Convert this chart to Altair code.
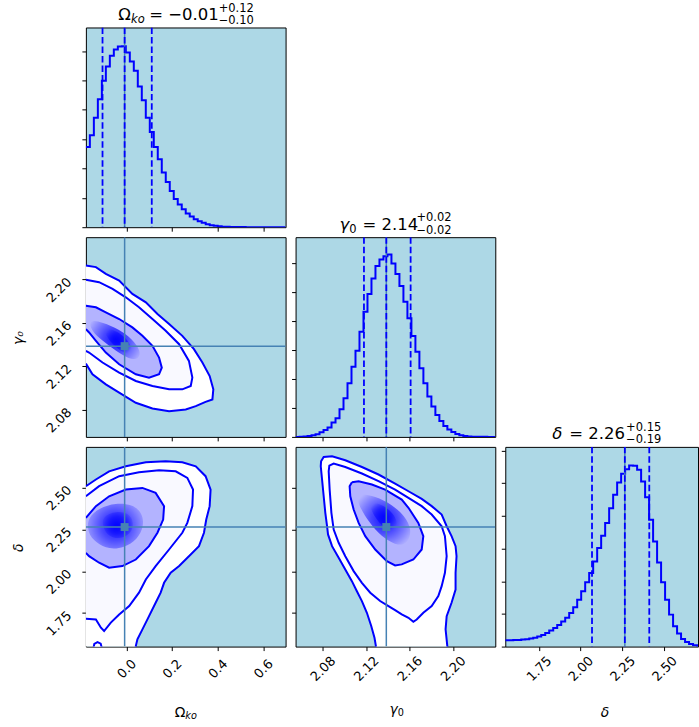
import altair as alt
import pandas as pd

FONT = "DejaVu Sans"
BG = "#add8e6"
BLUE = "#0000ff"
TRUTH_C = "#4682b4"

# ---------------- axis ranges / ticks ----------------
omega_range = [-0.178, 0.698]
gamma_range = [2.055, 2.239]
delta_range = [1.550, 2.743]
delta_shown_max = 2.701

omega_ticks = [0.0, 0.2, 0.4, 0.6]
gamma_ticks = [2.08, 2.12, 2.16, 2.20]
delta_ticks = [1.75, 2.00, 2.25, 2.50]
hist_ticks = [0, 1, 2, 3, 4, 5, 6]
hist_top = {"omega": 6.80, "gamma": 6.88, "delta": 6.11}

# ---------------- 1D histograms (50 bins over each range) ----------------
omega_hist = [2.73, 3.13, 3.73, 4.36, 4.99, 5.47, 5.84, 6.05, 6.15, 6.16,
              5.95, 5.64, 5.33, 4.79, 4.32, 3.73, 3.24, 2.73, 2.31, 1.86,
              1.54, 1.23, 0.96, 0.77, 0.61, 0.47, 0.36, 0.27, 0.20, 0.15,
              0.10, 0.07, 0.045, 0.03, 0.017, 0.012, 0.008, 0.006, 0.004, 0.003,
              0.002, 0.002, 0.001, 0.001, 0.0, 0.0, 0.0, 0.0, 0.0, 0.0]
gamma_hist = [0.0, 0.006, 0.017, 0.034, 0.057, 0.092, 0.161, 0.241, 0.321, 0.493,
              0.642, 0.952, 1.330, 1.847, 2.420, 2.970, 3.624, 4.312, 4.920, 5.459,
              5.883, 6.112, 6.227, 6.284, 5.975, 5.608, 5.195, 4.656, 4.083, 3.475,
              2.936, 2.362, 1.847, 1.388, 1.044, 0.757, 0.550, 0.378, 0.252, 0.172,
              0.103, 0.057, 0.034, 0.017, 0.006, 0.003, 0.002, 0.001, 0.0, 0.0]
delta_hist = [0.193, 0.193, 0.199, 0.204, 0.214, 0.224, 0.244, 0.270, 0.305, 0.356,
              0.418, 0.489, 0.570, 0.662, 0.764, 0.886, 1.029, 1.202, 1.436, 1.690,
              1.965, 2.251, 2.607, 3.014, 3.391, 3.778, 4.236, 4.644, 5.020, 5.285,
              5.428, 5.540, 5.530, 5.407, 5.051, 4.572, 3.880, 3.218, 2.576, 1.965,
              1.436, 0.978, 0.621, 0.397, 0.234, 0.143, 0.081, 0.041, 0.020, 0.010]

omega_q = [-0.105, -0.008, 0.111]
gamma_q = [2.118, 2.1386, 2.161]
delta_q = [2.068, 2.264, 2.410]
truth_omega = -0.008
truth_gamma = 2.1386
truth_delta = 2.264

# ---------------- 2D contours (1, 2, 3 sigma) ----------------
og_outer = [(-0.178, 2.2130), (-0.134, 2.2114), (-0.0905, 2.2052), (-0.032, 2.1991), (0.026, 2.1867),
            (0.085, 2.1790), (0.136, 2.1682), (0.187, 2.1590), (0.245, 2.1481), (0.296, 2.1358),
            (0.333, 2.1235), (0.365, 2.1111), (0.381, 2.0988), (0.377, 2.0895), (0.347, 2.0873),
            (0.304, 2.0833), (0.260, 2.0802), (0.187, 2.0787), (0.114, 2.0812), (0.041, 2.0864),
            (-0.032, 2.0957), (-0.0905, 2.1034), (-0.149, 2.1127), (-0.178, 2.1225)]
og_mid = [(-0.178, 2.1997), (-0.120, 2.1975), (-0.061, 2.1914), (-0.003, 2.1836), (0.055, 2.1744),
          (0.114, 2.1636), (0.172, 2.1528), (0.231, 2.1404), (0.274, 2.1250), (0.289, 2.1096),
          (0.282, 2.1019), (0.245, 2.0988), (0.187, 2.0988), (0.114, 2.1019), (0.041, 2.1065),
          (-0.032, 2.1142), (-0.105, 2.1235), (-0.164, 2.1327), (-0.178, 2.1343)]
og_inner = [(-0.178, 2.1759), (-0.134, 2.1744), (-0.0905, 2.1698), (-0.032, 2.1636), (0.026, 2.1559),
            (0.070, 2.1481), (0.114, 2.1389), (0.143, 2.1281), (0.155, 2.1188), (0.143, 2.1127),
            (0.099, 2.1096), (0.041, 2.1127), (-0.032, 2.1219), (-0.0905, 2.1327), (-0.134, 2.1435),
            (-0.164, 2.1512), (-0.178, 2.1543)]
og_core = [(-0.1635, 2.1636), (-0.105, 2.1605), (-0.032, 2.1543), (0.026, 2.1451), (0.063, 2.1343),
           (0.055, 2.1265), (0.012, 2.1265), (-0.047, 2.1343), (-0.105, 2.1435), (-0.156, 2.1528)]
og_peak = [(-0.098, 2.1559), (-0.047, 2.1528), (-0.003, 2.1466), (0.026, 2.1373), (0.019, 2.1312),
           (-0.0175, 2.1327), (-0.061, 2.1404), (-0.0905, 2.1481)]

od_outer = [(-0.178, 2.508), (-0.134, 2.548), (-0.076, 2.597), (-0.003, 2.627), (0.085, 2.651),
            (0.172, 2.657), (0.245, 2.651), (0.304, 2.627), (0.347, 2.568), (0.369, 2.488),
            (0.365, 2.389), (0.350, 2.309), (0.340, 2.230), (0.318, 2.150), (0.274, 2.090),
            (0.231, 2.031), (0.194, 1.991), (0.165, 1.931), (0.150, 1.872), (0.128, 1.812),
            (0.099, 1.732), (0.070, 1.653), (0.048, 1.593), (0.041, 1.553), (0.038, 1.514),
            (-0.3, 1.45), (-0.3, 2.508)]
od_mid = [(-0.178, 2.448), (-0.120, 2.508), (-0.032, 2.568), (0.055, 2.591), (0.143, 2.603),
          (0.216, 2.597), (0.267, 2.558), (0.292, 2.488), (0.289, 2.389), (0.267, 2.289),
          (0.245, 2.230), (0.187, 2.130), (0.128, 2.031), (0.085, 1.951), (0.055, 1.872),
          (0.012, 1.792), (-0.032, 1.742), (-0.0686, 1.693), (-0.098, 1.643), (-0.112, 1.663),
          (-0.134, 1.712), (-0.178, 1.716)]
od_inner = [(-0.178, 2.319), (-0.134, 2.389), (-0.076, 2.448), (-0.003, 2.488), (0.070, 2.498),
            (0.128, 2.468), (0.165, 2.389), (0.161, 2.309), (0.136, 2.230), (0.099, 2.150),
            (0.041, 2.070), (-0.018, 2.031), (-0.076, 2.021), (-0.120, 2.051), (-0.164, 2.090),
            (-0.178, 2.110)]
od_island = [(-0.145, 1.540), (-0.141, 1.566), (-0.127, 1.577), (-0.113, 1.568), (-0.108, 1.540)]
od_core = [(-0.171, 2.319), (-0.120, 2.379), (-0.047, 2.409), (0.026, 2.399), (0.070, 2.349),
           (0.077, 2.269), (0.048, 2.190), (-0.010, 2.140), (-0.076, 2.130), (-0.134, 2.170),
           (-0.171, 2.230)]
od_peak = [(-0.105, 2.329), (-0.047, 2.359), (0.012, 2.349), (0.034, 2.289), (0.019, 2.220),
           (-0.032, 2.190), (-0.083, 2.210), (-0.105, 2.269)]

gd_outer = [(2.1293, 1.513), (2.1290, 1.553), (2.1277, 1.603), (2.1247, 1.673), (2.1207, 1.752),
            (2.1161, 1.822), (2.1115, 1.881), (2.1069, 1.941), (2.1008, 2.011), (2.0947, 2.080),
            (2.0886, 2.150), (2.0849, 2.220), (2.0840, 2.269), (2.0824, 2.349), (2.0809, 2.448),
            (2.0794, 2.548), (2.0782, 2.627), (2.0785, 2.657), (2.0809, 2.683), (2.0886, 2.687),
            (2.1008, 2.663), (2.1161, 2.623), (2.1314, 2.578), (2.1467, 2.524), (2.1590, 2.478),
            (2.1712, 2.432), (2.1804, 2.389), (2.1896, 2.339), (2.1942, 2.269), (2.1987, 2.210),
            (2.2024, 2.150), (2.2033, 2.090), (2.2024, 1.991), (2.2024, 1.891), (2.1987, 1.812),
            (2.1942, 1.732), (2.1932, 1.653), (2.1948, 1.553), (2.1948, 1.513)]
gd_mid = [(2.0855, 2.597), (2.0861, 2.631), (2.0901, 2.643), (2.1008, 2.623), (2.1161, 2.584),
          (2.1314, 2.538), (2.1467, 2.488), (2.1590, 2.438), (2.1712, 2.389), (2.1804, 2.339),
          (2.1896, 2.269), (2.1926, 2.210), (2.1942, 2.090), (2.1926, 1.991), (2.1896, 1.911),
          (2.1865, 1.852), (2.1804, 1.792), (2.1727, 1.752), (2.1666, 1.712), (2.1635, 1.698),
          (2.1590, 1.722), (2.1528, 1.742), (2.1467, 1.768), (2.1406, 1.792), (2.1329, 1.822),
          (2.1238, 1.872), (2.1161, 1.931), (2.1085, 2.001), (2.1008, 2.090), (2.0947, 2.170),
          (2.0901, 2.249), (2.0880, 2.349), (2.0864, 2.488), (2.0855, 2.597)]
gd_inner = [(2.1069, 2.532), (2.1131, 2.538), (2.1253, 2.518), (2.1375, 2.488), (2.1528, 2.428),
            (2.1590, 2.379), (2.1681, 2.289), (2.1727, 2.210), (2.1712, 2.130), (2.1635, 2.070),
            (2.1528, 2.041), (2.1467, 2.035), (2.1391, 2.060), (2.1284, 2.130), (2.1192, 2.210),
            (2.1131, 2.289), (2.1085, 2.369), (2.1054, 2.448), (2.1048, 2.508), (2.1069, 2.532)]
gd_core = [(2.1131, 2.468), (2.1284, 2.448), (2.1437, 2.399), (2.1559, 2.329), (2.1620, 2.249),
           (2.1590, 2.170), (2.1498, 2.150), (2.1375, 2.190), (2.1253, 2.269), (2.1161, 2.359),
           (2.1115, 2.428)]
gd_peak = [(2.1238, 2.418), (2.1345, 2.399), (2.1452, 2.349), (2.1498, 2.279), (2.1452, 2.239),
           (2.1360, 2.259), (2.1284, 2.319), (2.1238, 2.379)]

# ---------------- text ----------------
title_omega = [("Ω", 32.5, -7.5, 16.5, False), ("ko", 45.3, -4, 11.5, True), ("= −0.01", 63.5, -7.5, 16.5, False),
               ("+0.12", 133, -16, 11.5, False), ("−0.10", 133, -3.5, 11.5, False)]
title_gamma = [("γ", 44, -7.5, 16.5, True), ("0", 53.8, -4, 11.5, False), ("= 2.14", 67, -7.5, 16.5, False),
               ("+0.02", 121, -16, 11.5, False), ("−0.02", 121, -3.5, 11.5, False)]
title_delta = [("δ", 47, -7.5, 16.5, True), ("= 2.26", 64, -7.5, 16.5, False),
               ("+0.15", 121, -16, 11.5, False), ("−0.19", 121, -3.5, 11.5, False)]
xlab_omega = [("Ω", 89, 270.5, 13.9, False), ("ko", 99.6, 273, 9.7, True)]
xlab_gamma = [("γ", 94, 267.3, 13.9, True), ("0", 102.2, 270, 9.7, False)]
xlab_delta = [("δ", 95.7, 270.3, 13.9, True)]

PANEL = 200
LAST_W = 193


def text_layers(pieces, angle=0, align="left", baseline="alphabetic"):
    out = []
    for t, x, y, size, italic in pieces:
        out.append(
            alt.Chart(pd.DataFrame({"t": [t]})).mark_text(
                align=align, baseline=baseline, font=FONT, fontSize=size,
                fontStyle="italic" if italic else "normal", color="black", angle=angle
            ).encode(x=alt.value(x), y=alt.value(y), text="t:N")
        )
    return out


def x_axis(ticks, fmt, show):
    kw = dict(values=ticks, title=None, domain=False, grid=False, ticks=True,
              tickSize=4, tickWidth=1, tickColor="black", labels=show)
    if show:
        kw.update(format=fmt, labelAngle=315, labelAlign="center", labelBaseline="middle",
                  labelPadding=18, labelFont=FONT, labelFontSize=13, labelColor="black")
    return alt.Axis(**kw)


def y_axis(ticks, fmt, show):
    kw = dict(values=ticks, title=None, domain=False, grid=False, ticks=True,
              tickSize=4, tickWidth=1, tickColor="black", labels=show)
    if show:
        kw.update(format=fmt, labelAngle=315, labelAlign="right", labelBaseline="middle",
                  labelPadding=13, labelFont=FONT, labelFontSize=13, labelColor="black")
    return alt.Axis(**kw)


VIEW = alt.ViewBackground(fill=BG, stroke="black", strokeWidth=1)


def hist_panel(rng, shown_max, heights, top, q, truth, ticks, fmt, show_x, width, extra):
    lo, hi = rng
    n = len(heights)
    bw = (hi - lo) / n
    df = pd.DataFrame({"x": [lo + k * bw for k in range(n)] + [hi],
                       "y": list(heights) + [heights[-1]]})
    xs = alt.Scale(domain=[lo, shown_max], nice=False, zero=False)
    ys = alt.Scale(domain=[0, top], nice=False, zero=False)
    step = alt.Chart(df).mark_line(interpolate="step-after", color=BLUE, strokeWidth=2, clip=True).encode(
        x=alt.X("x:Q", scale=xs, axis=x_axis(ticks, fmt, show_x)),
        y=alt.Y("y:Q", scale=ys, axis=y_axis(hist_ticks, "d", False)),
    )
    tr = alt.Chart(pd.DataFrame({"x": [truth]})).mark_rule(color=TRUTH_C, strokeWidth=1.5, clip=True).encode(
        x=alt.X("x:Q", scale=xs))
    qr = alt.Chart(pd.DataFrame({"x": q})).mark_rule(color=BLUE, strokeWidth=1.8, strokeDash=[6.5, 3],
                                                      clip=True).encode(x=alt.X("x:Q", scale=xs))
    return alt.layer(step, tr, qr, *extra).properties(width=width, height=PANEL, view=VIEW)


def poly_df(pts):
    return pd.DataFrame({"x": [p[0] for p in pts], "y": [p[1] for p in pts], "i": list(range(len(pts)))})


def radial(stops, r2):
    return alt.RadialGradient(
        gradient="radial",
        stops=[alt.GradientStop(color=f"rgba(0,0,255,{a})", offset=o) for o, a in stops],
        x1=0.5, y1=0.5, r1=0, x2=0.5, y2=0.5, r2=r2)


CORE_FILL = radial([(0.0, 0.9), (0.4, 0.6), (0.8, 0.2), (1.0, 0.0)], 0.62)
PEAK_FILL = radial([(0.0, 0.8), (0.5, 0.5), (1.0, 0.0)], 0.58)


def panel_2d(xr, yr, outer, mid, inner, core, peak, islands, tx, ty,
             xt, xf, show_x, yt, yf, show_y, extra):
    xs = alt.Scale(domain=xr, nice=False, zero=False)
    ys = alt.Scale(domain=yr, nice=False, zero=False)

    def fill(pts, color, op, interp="linear", axes=False):
        if axes:
            xe = alt.X("x:Q", scale=xs, axis=x_axis(xt, xf, show_x))
            ye = alt.Y("y:Q", scale=ys, axis=y_axis(yt, yf, show_y))
        else:
            xe = alt.X("x:Q", scale=xs)
            ye = alt.Y("y:Q", scale=ys)
        return alt.Chart(poly_df(pts)).mark_line(
            fill=color, fillOpacity=op, strokeOpacity=0, strokeWidth=0, clip=True, interpolate=interp
        ).encode(x=xe, y=ye, order="i:Q")

    rows = []
    for g, pts in enumerate([outer, mid, inner] + islands):
        for i, (a, b) in enumerate(pts):
            rows.append({"x": a, "y": b, "i": i, "g": g})
    lines = alt.Chart(pd.DataFrame(rows)).mark_line(color=BLUE, strokeWidth=2, clip=True).encode(
        x=alt.X("x:Q", scale=xs), y=alt.Y("y:Q", scale=ys), order="i:Q", detail="g:N")
    vr = alt.Chart(pd.DataFrame({"x": [tx]})).mark_rule(color=TRUTH_C, strokeWidth=1.5, clip=True).encode(
        x=alt.X("x:Q", scale=xs))
    hr = alt.Chart(pd.DataFrame({"y": [ty]})).mark_rule(color=TRUTH_C, strokeWidth=1.5, clip=True).encode(
        y=alt.Y("y:Q", scale=ys))
    sq = alt.Chart(pd.DataFrame({"x": [tx], "y": [ty]})).mark_point(
        shape="square", filled=True, size=64, color=TRUTH_C, opacity=1).encode(
        x=alt.X("x:Q", scale=xs), y=alt.Y("y:Q", scale=ys))
    layers = [fill(outer, "white", 1.0, axes=True), fill(mid, BLUE, 0.025), fill(inner, BLUE, 0.28),
              fill(core, CORE_FILL, 1.0, "basis-closed"), fill(peak, PEAK_FILL, 1.0, "basis-closed")]
    for isl in islands:
        layers.append(fill(isl, "white", 1.0))
    layers += [lines, vr, hr, sq]
    return alt.layer(*layers, *extra).properties(width=PANEL, height=PANEL, view=VIEW)


def blank(width):
    return alt.Chart(pd.DataFrame({"a": [0]})).mark_point(opacity=0).encode(
        x=alt.value(10), y=alt.value(10)).properties(
        width=width, height=PANEL, view=alt.ViewBackground(fill="transparent", stroke="transparent"))


anchor = alt.Chart(pd.DataFrame({"a": [0]})).mark_rule(color="white", opacity=0, strokeWidth=1).encode(
    x=alt.value(-85.5), y=alt.value(-26.5), y2=alt.value(-20))

p00 = hist_panel(omega_range, omega_range[1], omega_hist, hist_top["omega"], omega_q, truth_omega,
                 omega_ticks, ".1f", False, PANEL, text_layers(title_omega) + [anchor])
p11 = hist_panel(gamma_range, gamma_range[1], gamma_hist, hist_top["gamma"], gamma_q, truth_gamma,
                 gamma_ticks, ".2f", False, PANEL, text_layers(title_gamma))
p22 = hist_panel(delta_range, delta_shown_max, delta_hist, hist_top["delta"], delta_q, truth_delta,
                 delta_ticks, ".2f", True, LAST_W, text_layers(title_delta) + text_layers(xlab_delta))

p10 = panel_2d(omega_range, gamma_range, og_outer, og_mid, og_inner, og_core, og_peak, [],
               truth_omega, truth_gamma, omega_ticks, ".1f", False, gamma_ticks, ".2f", True,
               text_layers([("γ₀", -67, 101, 13.9, True)], angle=270, align="center", baseline="middle"))
p20 = panel_2d(omega_range, delta_range, od_outer, od_mid, od_inner, od_core, od_peak, [od_island],
               truth_omega, truth_delta, omega_ticks, ".1f", True, delta_ticks, ".2f", True,
               text_layers([("δ", -67, 101, 13.9, True)], angle=270, align="center", baseline="middle")
               + text_layers(xlab_omega))
p21 = panel_2d(gamma_range, delta_range, gd_outer, gd_mid, gd_inner, gd_core, gd_peak, [],
               truth_gamma, truth_delta, gamma_ticks, ".2f", True, delta_ticks, ".2f", False,
               text_layers(xlab_gamma))

chart = alt.concat(
    p00, blank(PANEL), blank(LAST_W),
    p10, p11, blank(LAST_W),
    p20, p21, p22,
    columns=3, spacing=10, bounds="flush",
).properties(padding=0)

chart.save("out.html", embed_options={"renderer": "svg", "actions": False})
